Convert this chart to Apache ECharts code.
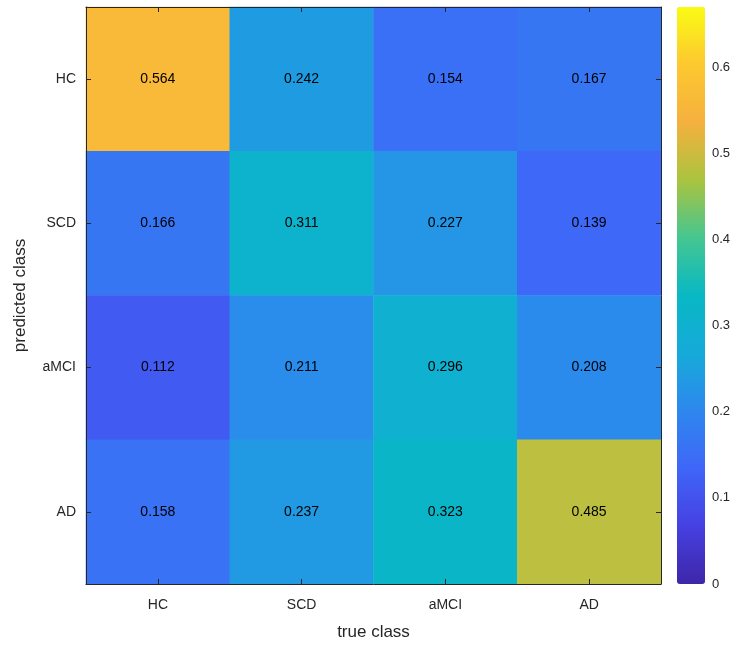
<!DOCTYPE html>
<html><head><meta charset="utf-8">
<script src="https://cdn.jsdelivr.net/npm/echarts@6/dist/echarts.min.js"></script>
<style>html,body{margin:0;padding:0;background:#fff}#c{width:739px;height:646px}</style>
</head><body><div id="c"></div>
<script>
const trueClasses = ['HC', 'SCD', 'aMCI', 'AD'];
const predClasses = ['HC', 'SCD', 'aMCI', 'AD'];
// rows = predicted class, columns = true class
const rowHC   = [0.564, 0.242, 0.154, 0.167];
const rowSCD  = [0.166, 0.311, 0.227, 0.139];
const rowAMCI = [0.112, 0.211, 0.296, 0.208];
const rowAD   = [0.158, 0.237, 0.323, 0.485];
const colorbarTicks = [0, 0.1, 0.2, 0.3, 0.4, 0.5, 0.6];
const cMin = 0, cMax = 0.67;
const parula = ['#3E26A8','#4640E2','#3F66F8','#2E87EE','#16AAD9','#08B8C4','#45C690','#AAC43F','#F5B03E','#FDC830','#F9FB14'];

const rows = [rowHC, rowSCD, rowAMCI, rowAD];
const data = [];
rows.forEach((r, yi) => r.forEach((v, xi) => data.push([xi, yi, v])));

const font = 'Liberation Sans, Arial, Helvetica, sans-serif';
const axCol = '#262626';
const frameAxis = {
  z: 10,
  axisLine: {show: true, lineStyle: {color: axCol, width: 1}},
  axisTick: {show: true, inside: true, alignWithLabel: true, length: 5, lineStyle: {color: axCol}},
  splitLine: {show: false}
};
const chart = echarts.init(document.getElementById('c'));
chart.setOption({
  animation: false,
  backgroundColor: '#fff',
  grid: [
    {left: 86, right: 78, top: 7, bottom: 62, show: false},
    {left: 677, width: 28, top: 7, bottom: 62, show: false}
  ],
  xAxis: [
    Object.assign({type: 'category', data: trueClasses, gridIndex: 0, position: 'bottom',
     name: 'true class', nameLocation: 'middle', nameGap: 40,
     nameTextStyle: {fontFamily: font, fontSize: 17, color: axCol},
     axisLabel: {fontFamily: font, fontSize: 14, color: axCol, margin: 14}}, frameAxis),
    Object.assign({type: 'category', data: trueClasses, gridIndex: 0, position: 'top',
     axisLabel: {show: false}}, frameAxis),
    {type: 'value', gridIndex: 1, show: false}
  ],
  yAxis: [
    Object.assign({type: 'category', data: predClasses, inverse: true, gridIndex: 0, position: 'left',
     name: 'predicted class', nameLocation: 'middle', nameGap: 57, nameRotate: 90,
     nameTextStyle: {fontFamily: font, fontSize: 17, color: axCol},
     axisLabel: {fontFamily: font, fontSize: 14, color: axCol, margin: 10}}, frameAxis),
    Object.assign({type: 'category', data: predClasses, inverse: true, gridIndex: 0, position: 'right',
     axisLabel: {show: false}}, frameAxis),
    {type: 'value', gridIndex: 1, position: 'right', min: cMin, max: cMax,
     axisLine: {show: false},
     axisTick: {show: false},
     axisLabel: {fontFamily: font, fontSize: 13, color: axCol, margin: 7,
       customValues: colorbarTicks, formatter: v => String(v)},
     splitLine: {show: false}}
  ],
  visualMap: {
    type: 'continuous', min: cMin, max: cMax, calculable: false, show: true,
    seriesIndex: 0, orient: 'vertical', left: 677, top: 7, padding: 0,
    itemWidth: 28, itemHeight: 577, text: null, showLabel: false,
    inRange: {color: parula}
  },
  series: [
    {type: 'heatmap', xAxisIndex: 0, yAxisIndex: 0, data: data, z: 2,
     label: {show: true, fontFamily: font, fontSize: 14, color: '#000',
       formatter: p => p.value[2].toFixed(3)},
     itemStyle: {borderWidth: 0}}
  ]
});
</script></body></html>
